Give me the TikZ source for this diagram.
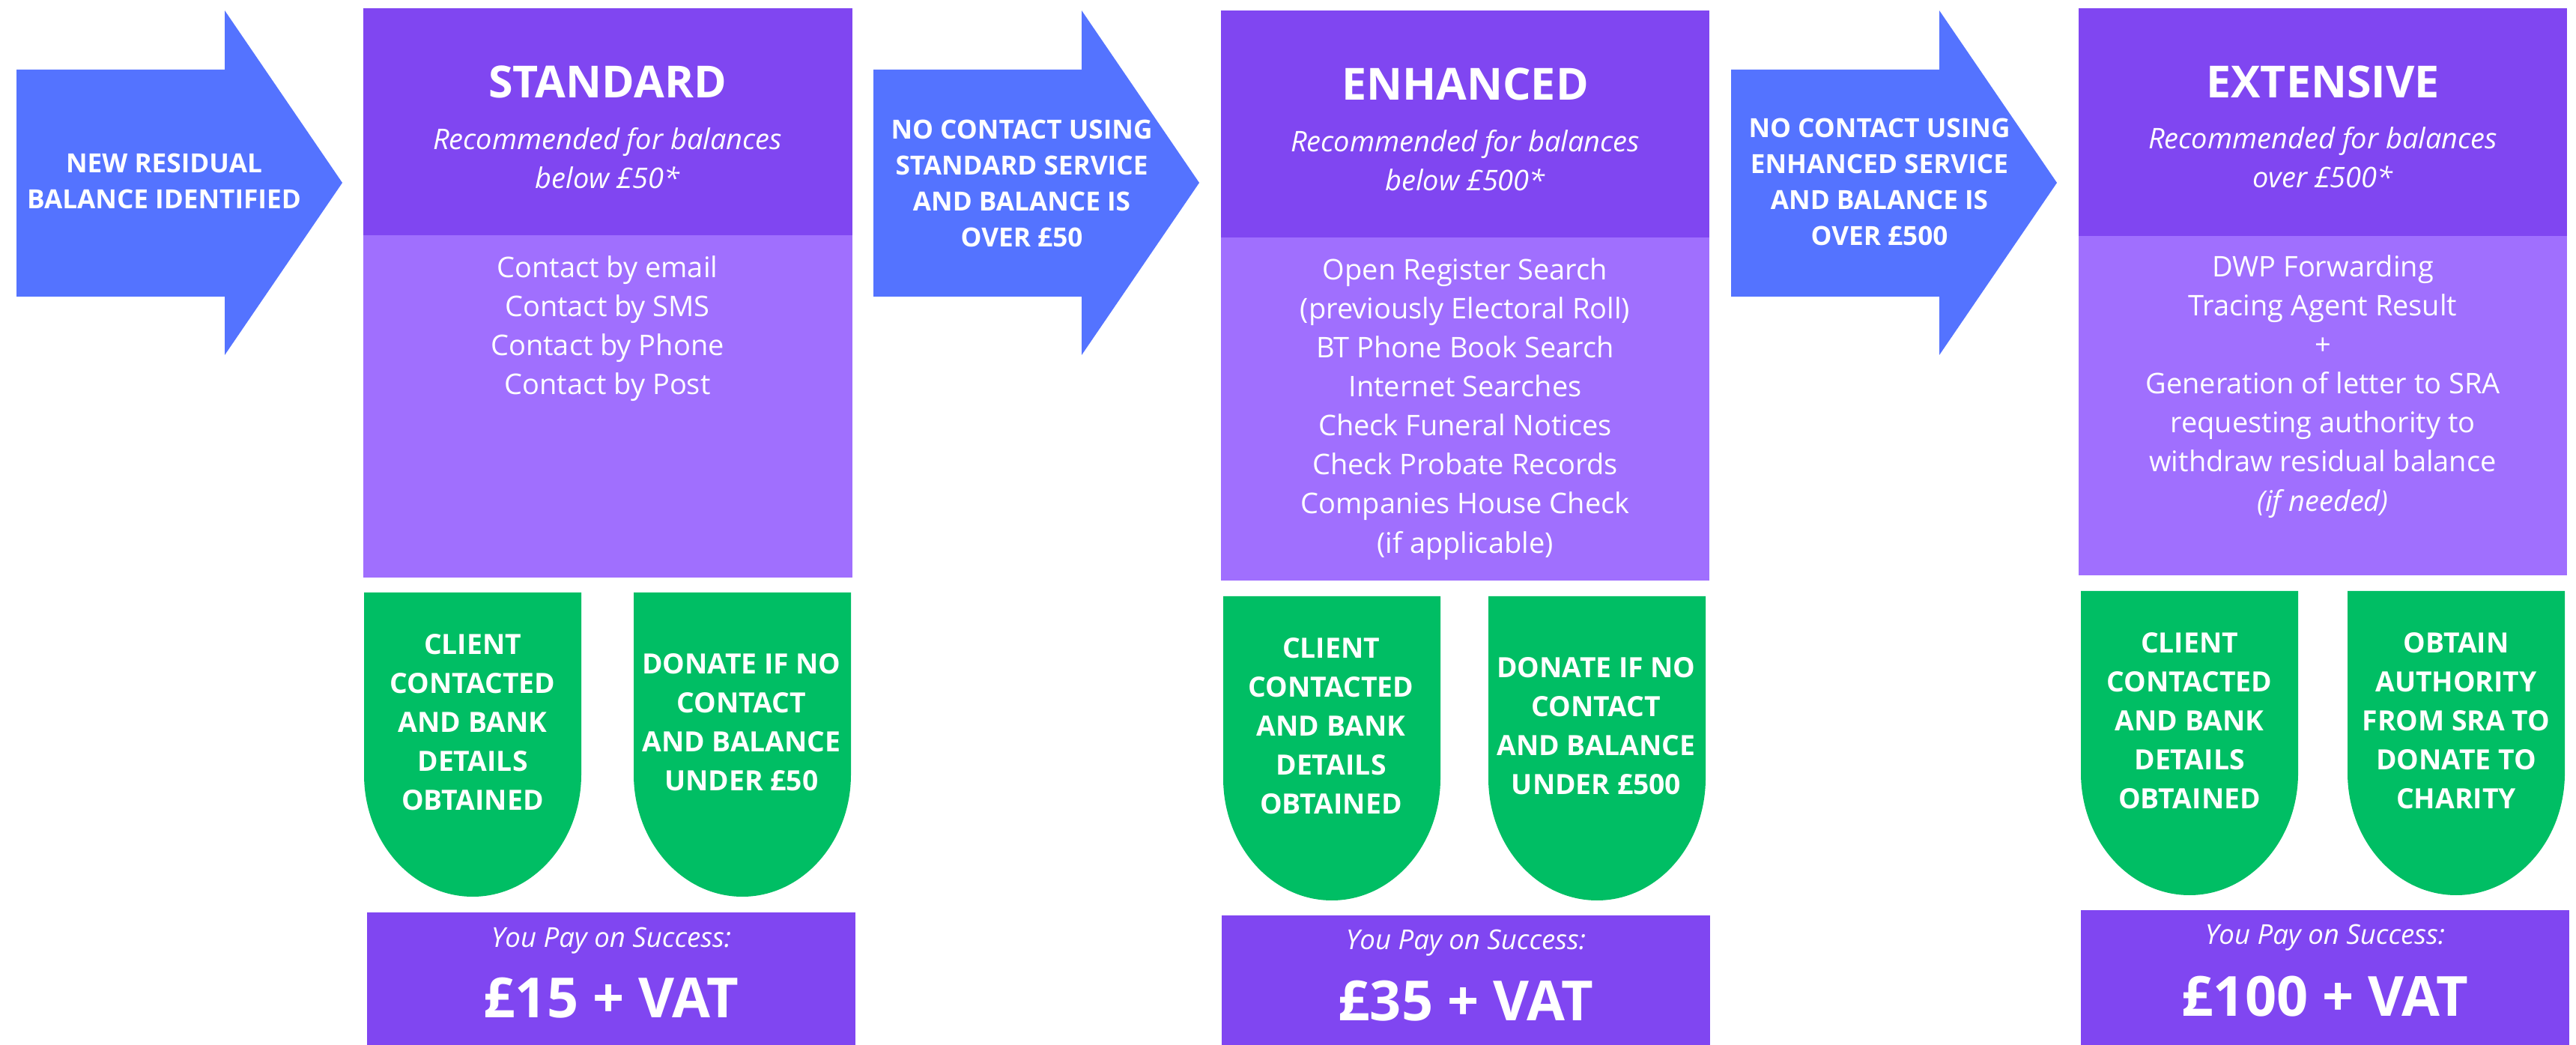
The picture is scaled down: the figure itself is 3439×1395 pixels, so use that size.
\documentclass[tikz,border=0pt]{standalone}
\usepackage{fontspec}
\setmainfont{Open Sans}
\usepackage{xcolor}
\usetikzlibrary{positioning}

\definecolor{headpurple}{HTML}{8046F1}
\definecolor{bodylilac}{HTML}{A06FFE}
\definecolor{arrowblue}{HTML}{5473FF}
\definecolor{okgreen}{HTML}{00BE64}

\tikzset{
  arrowtxt/.style={text=white, align=center, font=\bfseries\fontsize{10}{13.6}\selectfont},
  titletxt/.style={text=white, font=\bfseries\fontsize{16.8}{20}\selectfont},
  subtxt/.style={text=white, align=center, font=\itshape\fontsize{10.8}{14.8}\selectfont},
  listtxt/.style={text=white, align=center, font=\fontsize{10.8}{14.8}\selectfont},
  greentxt/.style={text=white, align=center, font=\bfseries\fontsize{10.6}{14.8}\selectfont},
  paytxt/.style={text=white, font=\itshape\fontsize{10.4}{12}\selectfont},
  pricetxt/.style={text=white, font=\bfseries\fontsize{21}{24}\selectfont}
}

\begin{document}
\begin{tikzpicture}[x=0.01cm, y=-0.01cm]
    \useasboundingbox (0,0) rectangle (3439,1395);

    % block arrows between the stages
    \foreach \xa in {22,1166,2311}
        \fill[arrowblue] (\xa,93) -- (\xa+278,93) -- (\xa+278,14) -- (\xa+435,244)
            -- (\xa+278,474) -- (\xa+278,396) -- (\xa,396) -- cycle;

    % stage columns
    \fill[bodylilac] (485,11) rectangle (1138,771);
    \fill[headpurple] (485,11) rectangle (1138,314);
    \fill[bodylilac] (1630,14) rectangle (2282,775);
    \fill[headpurple] (1630,14) rectangle (2282,317);
    \fill[bodylilac] (2775,11) rectangle (3427,768);
    \fill[headpurple] (2775,11) rectangle (3427,315);

    % outcome shields
    \foreach \xl/\yt in {486/791, 846/791, 1633/796, 1987/796, 2778/789, 3134/789}
        \fill[okgreen] (\xl,\yt) -- (\xl,\yt+243) .. controls (\xl,\yt+333) and (\xl+65,\yt+406)
            .. (\xl+145,\yt+406) .. controls (\xl+225,\yt+406) and (\xl+290,\yt+333)
            .. (\xl+290,\yt+243) -- (\xl+290,\yt) -- cycle;

    % price bars
    \fill[headpurple] (490,1218) rectangle (1142,1395);
    \fill[headpurple] (1631,1222) rectangle (2283,1395);
    \fill[headpurple] (2778,1215) rectangle (3430,1395);

    % arrow labels
    \node[arrowtxt] (newbal) at (219,242) {NEW RESIDUAL\\BALANCE IDENTIFIED};
    \node[arrowtxt] (tostd) at (1364,245) {NO CONTACT USING\\STANDARD SERVICE\\AND BALANCE IS\\OVER £50};
    \node[arrowtxt] (toenh) at (2509,243) {NO CONTACT USING\\ENHANCED SERVICE\\AND BALANCE IS\\OVER £500};

    % standard
    \node[titletxt] (stdtitle) at (811,109) {STANDARD};
    \node[subtxt] (stdsub) at (811,211) {Recommended for balances\\below £50*};
    \node[listtxt] (stdlist) at (811,439) {Contact by email\\Contact by SMS\\Contact by Phone\\Contact by Post};
    \node[greentxt] (stdok) at (631,964) {CLIENT\\CONTACTED\\AND BANK\\DETAILS\\OBTAINED};
    \node[greentxt] (stdgive) at (990,964) {DONATE IF NO\\CONTACT\\AND BALANCE\\UNDER £50};
    \node[paytxt] (stdpay) at (816,1256) {You Pay on Success:};
    \node[pricetxt] (stdprice) at (816,1332) {£15 + VAT};

    % enhanced
    \node[titletxt] (enhtitle) at (1956,112) {ENHANCED};
    \node[subtxt] (enhsub) at (1956,214) {Recommended for balances\\below £500*};
    \node[listtxt] (enhlist) at (1956,546) {Open Register Search\\(previously Electoral Roll)\\BT Phone Book Search\\Internet Searches\\Check Funeral Notices\\Check Probate Records\\Companies House Check\\(if applicable)};
    \node[greentxt] (enhok) at (1777,969) {CLIENT\\CONTACTED\\AND BANK\\DETAILS\\OBTAINED};
    \node[greentxt] (enhgive) at (2131,969) {DONATE IF NO\\CONTACT\\AND BALANCE\\UNDER £500};
    \node[paytxt] (enhpay) at (1957,1259) {You Pay on Success:};
    \node[pricetxt] (enhprice) at (1957,1336) {£35 + VAT};

    % extensive
    \node[titletxt] (exttitle) at (3101,109) {EXTENSIVE};
    \node[subtxt] (extsub) at (3101,210) {Recommended for balances\\over £500*};
    \node[listtxt] (extlist) at (3101,516) {DWP Forwarding\\Tracing Agent Result\\+\\Generation of letter to SRA\\requesting authority to\\withdraw residual balance\\\textit{(if needed)}};
    \node[greentxt] (extok) at (2923,962) {CLIENT\\CONTACTED\\AND BANK\\DETAILS\\OBTAINED};
    \node[greentxt] (extsra) at (3279,962) {OBTAIN\\AUTHORITY\\FROM SRA TO\\DONATE TO\\CHARITY};
    \node[paytxt] (extpay) at (3104,1252) {You Pay on Success:};
    \node[pricetxt] (extprice) at (3104,1330) {£100 + VAT};
\end{tikzpicture}
\end{document}
